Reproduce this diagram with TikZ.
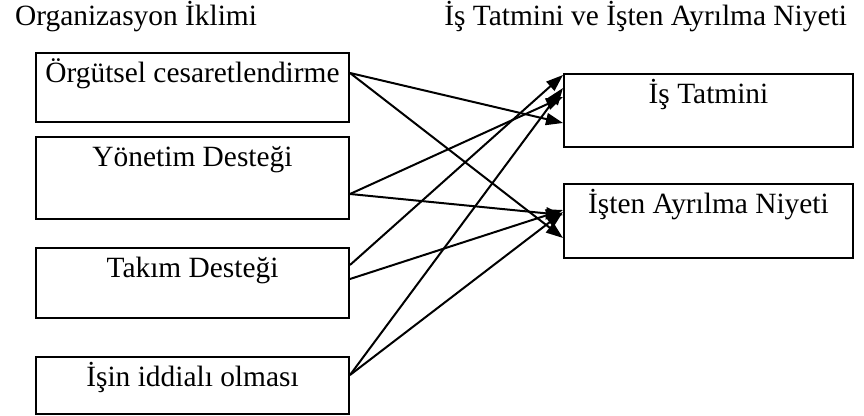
\documentclass[tikz,border=0pt]{standalone}
\usepackage{fontspec}
\setmainfont{Liberation Serif}
\usetikzlibrary{arrows.meta}

\tikzset{
    box/.style={draw,line width=1pt,anchor=north west,inner sep=0pt,text height=15pt,text depth=#1},
    leftbox/.style={box=#1,minimum width=156.5pt},
    rightbox/.style={box=#1,minimum width=144.5pt},
    link/.style={line width=1pt,-{Triangle[length=8.5pt,width=6pt]}}
}

\begin{document}
\begin{tikzpicture}[x=0.5pt,y=-0.5pt,every node/.style={font=\fontsize{14.7}{17.5}\selectfont}]
        \useasboundingbox (0,0) rectangle (864,416);
        % Headings
        \node[anchor=base west] (climate) at (8,26) {Organizasyon İklimi};
        \node[anchor=base east] (outcome) at (854,26) {İş Tatmini ve İşten Ayrılma Niyeti};
        % Climate dimensions
        \node[leftbox=19.5pt] (b1) at (35,52) {Örgütsel cesaretlendirme};
        \node[leftbox=26pt] (b2) at (35,136) {Yönetim Desteği};
        \node[leftbox=20pt] (b3) at (35,247) {Takım Desteği};
        \node[leftbox=13.5pt] (b4) at (35,356) {İşin iddialı olması};
        % Outcomes
        \node[rightbox=21.5pt] (r1) at (563,73) {İş Tatmini};
        \node[rightbox=22pt] (r2) at (563,183) {İşten Ayrılma Niyeti};
        % Links
        \foreach \from/\fy/\to/\ty in {b1/10.5/r1/25, b1/10.5/r2/27.5, b2/29/r1/12, b2/29/r2/16,
                b3/9/r1/1, b3/16/r2/13.5, b4/9.5/r1/7.5, b4/9.5/r2/14.5} {
            \draw[link] ([yshift=-\fy pt]\from.north east) -- ([yshift=-\ty pt]\to.north west);
        }
    \end{tikzpicture}
\end{document}
